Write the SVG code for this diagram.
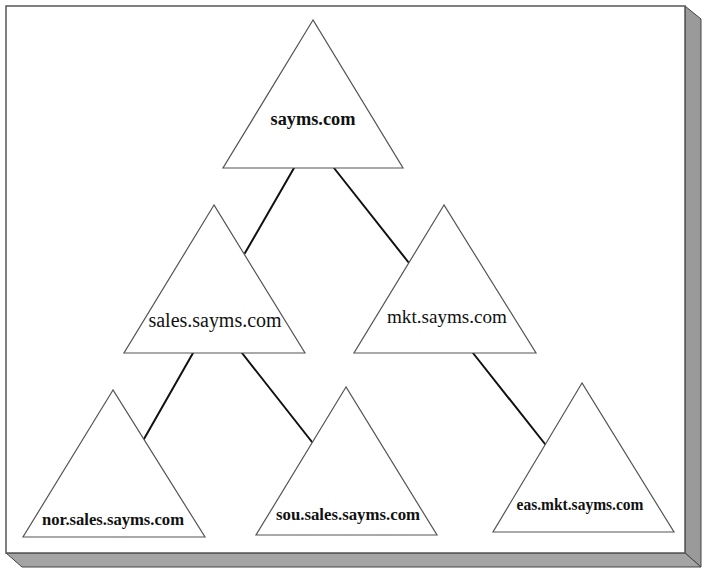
<svg xmlns="http://www.w3.org/2000/svg" width="712" height="576" viewBox="0 0 712 576">
<style>
.tri{fill:#fff;stroke:#555;stroke-width:1.2;stroke-linejoin:miter}
.lbl{font-family:"Liberation Serif","Times New Roman",serif;fill:#111;text-anchor:middle}
.b{font-weight:bold}
.conn line{stroke:#111;stroke-width:2;stroke-linecap:round}
</style>
<rect width="712" height="576" fill="#fff"/>
<g id="frame">
<polygon points="685,6 701,19 701,567 685,553" fill="#9a9a9a" stroke="#444" stroke-width="1"/>
<polygon points="6,553 22,567 701,567 685,553" fill="#a4a4a4" stroke="#444" stroke-width="1"/>
<rect x="6" y="6" width="679" height="547" fill="#fff" stroke="#555" stroke-width="1.5"/>
</g>
<g id="connectors" class="conn">
<line x1="294" y1="168" x2="245" y2="253"/>
<line x1="334" y1="168" x2="409" y2="263"/>
<line x1="193" y1="353" x2="144" y2="439"/>
<line x1="242" y1="353" x2="312" y2="442"/>
<line x1="473" y1="353" x2="545" y2="444"/>
</g>
<g id="sayms">
<polygon class="tri" points="313,20 223,168 403,168"/>
<text class="lbl b" x="313" y="125" font-size="18" textLength="85" lengthAdjust="spacingAndGlyphs">sayms.com</text>
</g>
<g id="sales">
<polygon class="tri" points="214,205 124,353 305,353"/>
<text class="lbl" x="215" y="327" font-size="20" textLength="133" lengthAdjust="spacingAndGlyphs">sales.sayms.com</text>
</g>
<g id="mkt">
<polygon class="tri" points="444,205 354,353 536,353"/>
<text class="lbl" x="447" y="323" font-size="19" textLength="120" lengthAdjust="spacingAndGlyphs">mkt.sayms.com</text>
</g>
<g id="nor">
<polygon class="tri" points="113,390 23,537 205,537"/>
<text class="lbl b" x="113" y="525" font-size="16.5" textLength="142" lengthAdjust="spacingAndGlyphs">nor.sales.sayms.com</text>
</g>
<g id="sou">
<polygon class="tri" points="346,387 256,535 437,535"/>
<text class="lbl b" x="348" y="520" font-size="16.5" textLength="144" lengthAdjust="spacingAndGlyphs">sou.sales.sayms.com</text>
</g>
<g id="eas">
<polygon class="tri" points="582,383 493,532 674,532"/>
<text class="lbl b" x="580" y="510" font-size="16" textLength="127" lengthAdjust="spacingAndGlyphs">eas.mkt.sayms.com</text>
</g>
</svg>
